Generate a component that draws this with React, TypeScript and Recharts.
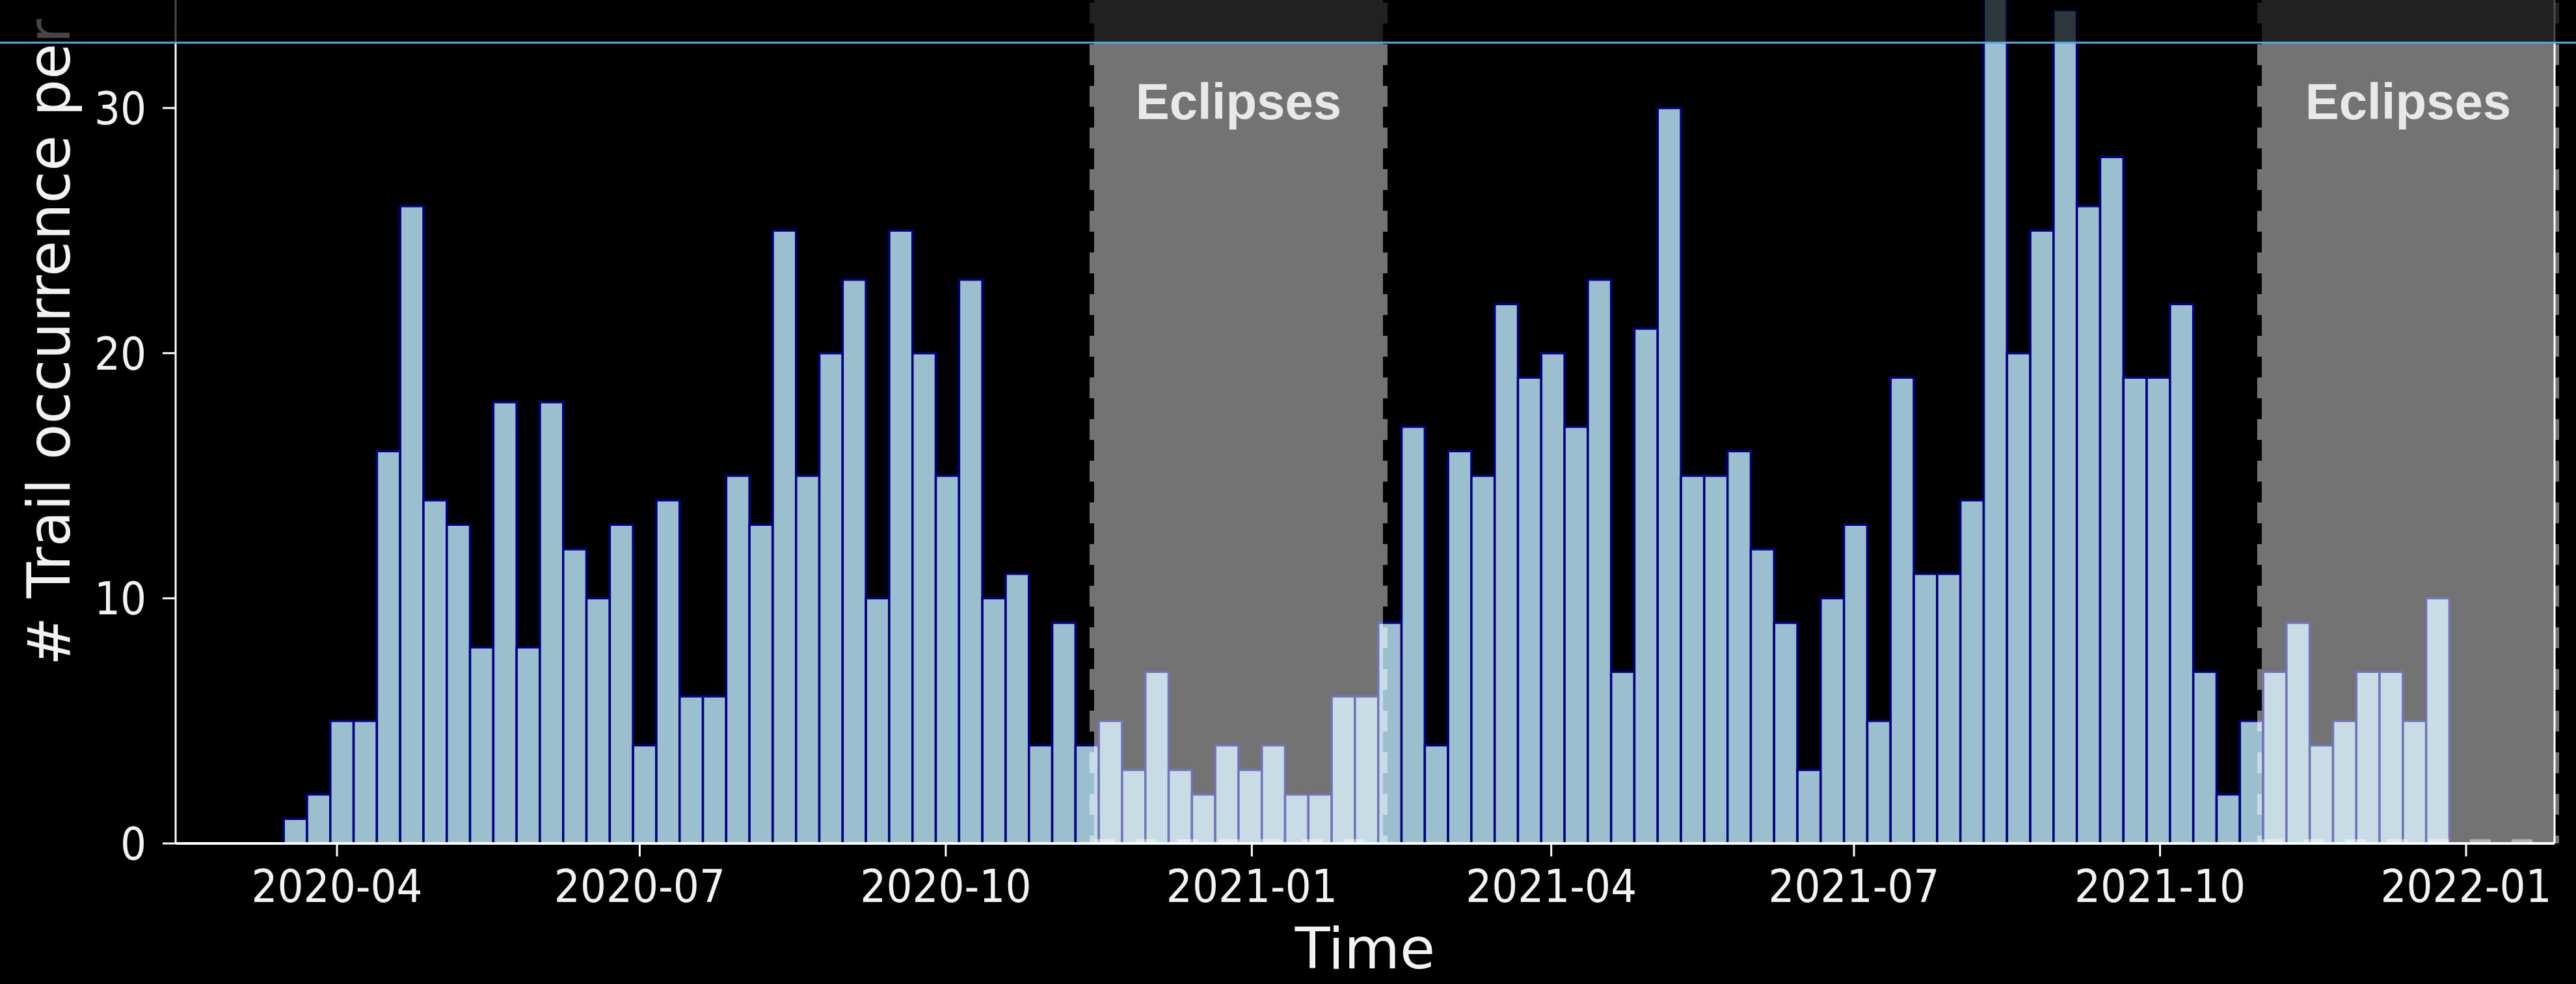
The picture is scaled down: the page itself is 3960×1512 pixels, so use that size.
import { Bar, BarChart, ReferenceArea, ReferenceLine, XAxis, YAxis } from "recharts";

const DAY = 86400000;

// weekly histogram, bins start on this Monday
const binStart = "2020-03-16";
const binDays = 7;
const trailCounts = [
  1, 2, 5, 5, 16, 26, 14, 13, 8, 18, 8, 18, 12, 10, 13, 4, 14, 6, 6, 15,
  13, 25, 15, 20, 23, 10, 25, 20, 15, 23, 10, 11, 4, 9, 4,
  5, 3, 7, 3, 2, 4, 3, 4, 2, 2, 6, 6, 9,
  17, 4, 16, 15, 22, 19, 20, 17, 23, 7, 21, 30, 15, 15, 16, 12, 9, 3, 10, 13, 5, 19, 11, 11,
  14, 36, 20, 25, 34, 26, 28, 19, 19, 22, 7, 2, 5,
  7, 9, 4, 5, 7, 7, 5, 10,
];

const xTickLabels = ["2020-04", "2020-07", "2020-10", "2021-01", "2021-04", "2021-07", "2021-10", "2022-01"];
const yTicks = [0, 10, 20, 30];

const eclipseStarts = ["2020-11-14T14:00:00Z", "2021-10-31T14:00:00Z"];
const eclipseEnds = ["2021-02-09T10:00:00Z", "2022-01-27T14:00:00Z"];

const xRange = ["2020-02-12T12:00:00Z", "2022-01-27T14:00:00Z"];
const yRange = [0, 36];

const ts = (s: string) => new Date(s).getTime();
const xMin = ts(xRange[0]);
const xMax = ts(xRange[1]);
const firstCenter = ts(binStart + "T00:00:00Z") + (binDays / 2) * DAY;
const data = trailCounts.map((count, i) => ({ t: firstCenter + i * binDays * DAY, count }));
const xTicks = xTickLabels.map((m) => ts(m + "-01T00:00:00Z"));

const W = 3960;
const H = 1512;
const margin = { top: 0, right: 33, left: 70, bottom: 16 };
const yAxisWidth = 200;
const plotWidth = W - margin.left - margin.right - yAxisWidth;
const weekPx = (plotWidth * binDays * DAY) / (xMax - xMin);

const tickFont = "'DejaVu Sans Condensed', 'DejaVu Sans', sans-serif";
const labelFont = "'DejaVu Sans', sans-serif";

function EclipseShape(props: any) {
  const { x, y, width, height } = props;
  const dash = { stroke: "#ffffff", strokeOpacity: 0.45, strokeWidth: 7, strokeDasharray: "32 32" };
  return (
    <g>
      <rect x={x} y={y} width={width} height={height} fill="#ffffff" fillOpacity={0.45} />
      <line x1={x - 3.5} y1={y} x2={x - 3.5} y2={y + height} {...dash} />
      <line x1={x + width + 3.5} y1={y} x2={x + width + 3.5} y2={y + height} {...dash} />
      <line x1={x} y1={y + height - 3} x2={x + width} y2={y + height - 3} {...dash} />
    </g>
  );
}

export default function App() {
  return (
    <div style={{ position: "absolute", left: 0, top: 0, width: W, height: H, overflow: "hidden", background: "#000" }}>
      <div style={{ position: "absolute", left: 0, top: -60 }}>
        <BarChart width={W} height={H + 60} data={data} margin={margin}>
          <XAxis
            dataKey="t"
            type="number"
            domain={[xMin, xMax]}
            allowDataOverflow
            ticks={xTicks}
            tickFormatter={(v) => xTickLabels[xTicks.indexOf(v)] ?? ""}
            height={200}
            stroke="#ffffff"
            axisLine={{ stroke: "#ffffff", strokeWidth: 4 }}
            tickLine={{ stroke: "#ffffff", strokeWidth: 3 }}
            tickSize={20}
            tickMargin={20}
            tick={{ fill: "#f2f2f2", fontSize: 70, fontFamily: tickFont }}
            label={{ value: "Time", position: "insideBottom", offset: 8, fill: "#f2f2f2", fontSize: 88, fontFamily: labelFont }}
          />
          <YAxis
            type="number"
            domain={yRange}
            allowDataOverflow
            ticks={yTicks}
            width={yAxisWidth}
            stroke="#ffffff"
            axisLine={{ stroke: "#ffffff", strokeWidth: 3 }}
            tickLine={{ stroke: "#ffffff", strokeWidth: 3 }}
            tickSize={20}
            tickMargin={25}
            tick={{ fill: "#f2f2f2", fontSize: 70, fontFamily: tickFont }}
            label={{
              content: () => (
                <text
                  x={107}
                  y={1083}
                  transform="rotate(-90 107 1083)"
                  textAnchor="start"
                  fill="#f2f2f2"
                  fontSize={90}
                  fontFamily={labelFont}
                >
                  # Trail occurrence per
                </text>
              ),
            }}
          />
          <Bar
            dataKey="count"
            fill="#9bbfcf"
            stroke="#000080"
            strokeWidth={3.5}
            barSize={weekPx * 0.999}
            isAnimationActive={false}
          />
          {eclipseStarts.map((s, i) => (
            <ReferenceArea
              key={s}
              x1={ts(s)}
              x2={ts(eclipseEnds[i])}
              zIndex={350}
              shape={(p: any) => <EclipseShape {...p} />}
              label={{
                value: "Eclipses",
                position: "insideTop",
                offset: 188,
                fill: "#e8e8e8",
                fontSize: 78,
                fontWeight: 700,
                fontFamily: "'Liberation Sans', Arial, sans-serif",
              }}
            />
          ))}
          <ReferenceLine x={xMax} stroke="#ffffff" strokeWidth={3} />
        </BarChart>
      </div>
      {/* darkened strip and blue rule across the top of the screenshot */}
      <div style={{ position: "absolute", left: 0, top: 0, width: W, height: 64, background: "rgba(0,0,0,0.71)" }} />
      <div style={{ position: "absolute", left: 0, top: 64, width: W, height: 3, background: "#4aa9e4" }} />
    </div>
  );
}
